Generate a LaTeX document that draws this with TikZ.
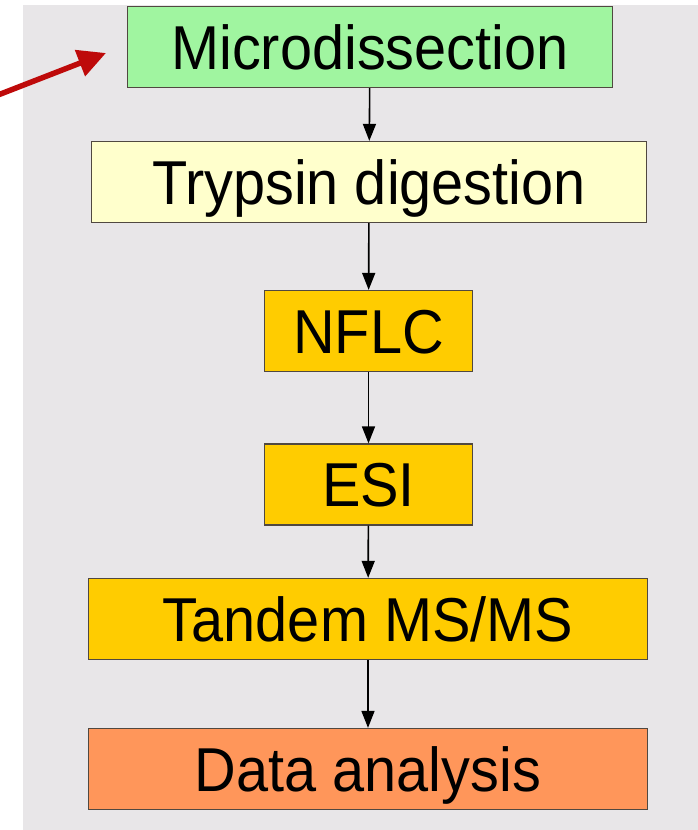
\documentclass[tikz,border=0pt]{standalone}
\usepackage{fontspec}
\setmainfont[FakeStretch=0.93]{Liberation Sans}
\usetikzlibrary{arrows.meta}
\definecolor{bggray}{RGB}{232,230,232}
\definecolor{boxline}{RGB}{80,72,64}
\definecolor{microfill}{RGB}{160,245,160}
\definecolor{trypfill}{RGB}{255,255,204}
\definecolor{msfill}{RGB}{255,204,0}
\definecolor{datafill}{RGB}{255,150,90}
\definecolor{pointred}{RGB}{190,10,10}
\begin{document}
\begin{tikzpicture}[x=1pt,y=-1pt,
  stage/.style={shape=rectangle,draw=boxline,line width=1.3pt,inner sep=0pt,
    minimum height=81pt,text height=44pt,text depth=0pt,
    font=\fontsize{62}{70}\selectfont},
  flow/.style={-{Triangle[length=17pt,width=13pt]},line width=1.6pt}]
\useasboundingbox (0,0) rectangle (698,830);
\fill[bggray] (23,5) rectangle (698,830);
\node[stage,fill=microfill,minimum width=485pt] (M) at (370,47) {Microdissection};
\node[stage,fill=trypfill,minimum width=555pt] (T) at (369,182) {Trypsin digestion};
\node[stage,fill=msfill,minimum width=208pt] (N) at (368.5,331) {NFLC};
\node[stage,fill=msfill,minimum width=208pt] (E) at (368.5,484.5) {ESI};
\node[stage,fill=msfill,minimum width=559pt] (S) at (368,619) {Tandem MS/MS};
\node[stage,fill=datafill,minimum width=559pt] (D) at (368,769) {Data analysis};
\coordinate (redtail) at (-2,95);
\coordinate (redtip) at (106,53);
\path [flow] (M) edge (T);
\path [flow] (T) edge (N);
\path [flow] (N) edge (E);
\path [flow] (E) edge (S);
\path [flow] (S) edge (D);
\draw [pointred,line width=5.5pt,-{Triangle[length=28pt,width=27pt]}] (redtail) -- (redtip);
\end{tikzpicture}
\end{document}
